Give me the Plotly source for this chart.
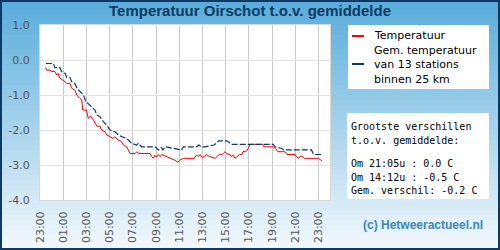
import plotly.graph_objects as go

# ---------------- data ----------------
red_times = ["23:29","23:34","23:52","00:00","00:17","00:26","00:33","00:43","01:10","01:18",
             "01:35","01:44","02:00","02:10","02:27","02:36","02:41","03:00","03:10","03:21",
             "03:36","03:54","04:10","04:18","04:36","04:45","05:02","05:18","05:27","05:45",
             "06:02","06:12","06:28","06:46","07:12","07:21","07:30","08:29","08:38","08:46",
             "08:54","09:03","09:12","09:21","09:30","09:54","10:21","10:36","10:54","11:03",
             "11:22","12:18","12:30","12:39","12:48","12:57","13:12","13:21","13:36","14:06",
             "14:24","14:42","14:51","14:57","15:06","15:24","15:30","15:39","15:48","15:57",
             "16:12","16:24","16:30","16:48","16:58","17:06","18:12","18:18","19:06","19:18",
             "19:30","20:06","20:18","21:00","21:06","21:18","21:27","21:36","21:48","23:00",
             "23:12","23:18"]
red_values = [-0.22,-0.29,-0.29,-0.33,-0.33,-0.43,-0.38,-0.52,-0.62,-0.67,
              -0.67,-0.81,-0.86,-1.00,-1.10,-1.14,-1.43,-1.43,-1.67,-1.60,
              -1.71,-1.89,-1.89,-2.00,-2.05,-2.14,-2.19,-2.24,-2.19,-2.29,
              -2.33,-2.43,-2.48,-2.67,-2.67,-2.62,-2.67,-2.67,-2.76,-2.81,
              -2.72,-2.78,-2.70,-2.76,-2.70,-2.76,-2.81,-2.86,-2.92,-2.86,
              -2.81,-2.81,-2.71,-2.76,-2.70,-2.78,-2.76,-2.70,-2.76,-2.81,
              -2.71,-2.70,-2.65,-2.62,-2.68,-2.71,-2.76,-2.72,-2.81,-2.76,
              -2.70,-2.70,-2.62,-2.60,-2.52,-2.41,-2.41,-2.48,-2.48,-2.52,
              -2.62,-2.62,-2.70,-2.70,-2.76,-2.81,-2.74,-2.76,-2.81,-2.81,
              -2.86,-2.88]

avg_times = ["23:31","00:09","00:17","00:43","00:52","01:10","01:18","01:35","01:44","02:00",
             "02:12","02:27","02:44","02:58","03:18","03:44","03:54","04:10","04:28","04:45",
             "05:02","05:28","05:45","06:02","06:28","06:54","07:20","07:28","07:36","07:46",
             "08:54","09:12","09:27","09:36","09:48","10:21","10:54","11:12","11:22","12:30",
             "12:42","12:54","13:12","14:00","14:12","14:24","15:06","15:12","15:24","15:30",
             "19:06","19:16","19:48","20:00","22:24","22:36","23:18"]
avg_values = [-0.10,-0.10,-0.22,-0.22,-0.33,-0.38,-0.50,-0.50,-0.62,-0.67,
              -0.81,-0.90,-1.00,-1.19,-1.29,-1.43,-1.57,-1.62,-1.76,-1.86,
              -2.00,-2.05,-2.14,-2.19,-2.24,-2.38,-2.43,-2.38,-2.43,-2.48,
              -2.48,-2.57,-2.50,-2.57,-2.48,-2.52,-2.57,-2.57,-2.48,-2.48,
              -2.43,-2.48,-2.48,-2.43,-2.38,-2.31,-2.31,-2.33,-2.38,-2.41,
              -2.41,-2.48,-2.52,-2.57,-2.57,-2.70,-2.70]

tick_labels = ["23:00","01:00","03:00","05:00","07:00","09:00","11:00","13:00",
               "15:00","17:00","19:00","21:00","23:00"]
y_ticks = [1.0, 0.0, -1.0, -2.0, -3.0, -4.0]

title_text = "Temperatuur Oirschot t.o.v. gemiddelde"
series_names = ["Temperatuur", "Gem. temperatuur<br>van 13 stations<br>binnen 25 km"]
info_lines = ["Grootste verschillen", "t.o.v. gemiddelde:", "",
              "Om 21:05u : 0.0 C", "Om 14:12u : -0.5 C", "Gem. verschil: -0.2 C"]
credit = "(c) Hetweeractueel.nl"


def to_hours(times):
    """Hours since 23:00 of the first day, rolling over midnight in sequence."""
    out = []
    prev = -1.0
    for t in times:
        h, m = map(int, t.split(":"))
        v = h + m / 60.0 - 23.0
        while v < prev:
            v += 24.0
        out.append(v)
        prev = v
    return out

# ---------------- layout helpers ----------------
W, H = 500, 250
L, R, T, B = 40, 330, 25, 200


def px(x):
    return (x - L) / (R - L)


def py(y):
    return (B - y) / (B - T)


RED = "#ff0000"
NAVY = "#0b3a64"

fig = go.Figure()
fig.add_trace(go.Scatter(x=to_hours(red_times), y=red_values, mode="lines",
                         name=series_names[0], line=dict(color=RED, width=1)))
fig.add_trace(go.Scatter(x=to_hours(avg_times), y=avg_values, mode="lines",
                         name=series_names[1], line=dict(color=NAVY, width=1.2, dash="6px,2px")))

shapes = []
# background gradient
top = (87, 172, 219)
bot = (244, 249, 252)
n = 50
for i in range(n):
    f = (i + 0.5) / n
    c = tuple(round(top[k] + (bot[k] - top[k]) * f) for k in range(3))
    y0 = H * i / n
    y1 = H * (i + 1) / n + 0.5
    shapes.append(dict(type="rect", xref="paper", yref="paper", layer="below",
                       x0=px(0), x1=px(W), y0=py(y1), y1=py(y0),
                       fillcolor="rgb(%d,%d,%d)" % c, line=dict(width=0)))
# plot area white
shapes.append(dict(type="rect", xref="paper", yref="paper", layer="below",
                   x0=0, x1=1, y0=0, y1=1, fillcolor="white", line=dict(width=0)))
# legend box
shapes.append(dict(type="rect", xref="paper", yref="paper", layer="below",
                   x0=px(348), x1=px(489), y0=py(89), y1=py(25),
                   fillcolor="white", line=dict(width=0)))
# info box
shapes.append(dict(type="rect", xref="paper", yref="paper", layer="below",
                   x0=px(347), x1=px(489), y0=py(199), y1=py(113),
                   fillcolor="white", line=dict(width=0)))
# legend swatches
shapes.append(dict(type="line", xref="paper", yref="paper",
                   x0=px(352), x1=px(364), y0=py(36), y1=py(36),
                   line=dict(color=RED, width=2)))
shapes.append(dict(type="line", xref="paper", yref="paper",
                   x0=px(352), x1=px(364), y0=py(64), y1=py(64),
                   line=dict(color=NAVY, width=2)))
# outer border
shapes.append(dict(type="rect", xref="paper", yref="paper", layer="above",
                   x0=px(1), x1=px(W - 1), y0=py(H - 1), y1=py(1),
                   fillcolor="rgba(0,0,0,0)", line=dict(color="#0b3a66", width=2)))

annotations = []
annotations.append(dict(text="<b>%s</b>" % title_text, xref="paper", yref="paper",
                        x=px(250), y=py(11), xanchor="center", yanchor="middle",
                        showarrow=False,
                        font=dict(family="Liberation Sans, Arial", size=15, color="#0d3a63")))
annotations.append(dict(text=series_names[0], xref="paper", yref="paper", x=px(372), y=py(35.5),
                        xanchor="left", yanchor="middle", showarrow=False,
                        font=dict(family="DejaVu Sans", size=11, color="#000000")))
annotations.append(dict(text=series_names[1], xref="paper", yref="paper", x=px(372), y=py(65),
                        xanchor="left", yanchor="middle", align="left", showarrow=False,
                        font=dict(family="DejaVu Sans", size=11, color="#000000")))
info_y = [126.5, 140, 153, 163.5, 177, 190.5]
for s, yy in zip(info_lines, info_y):
    if not s:
        continue
    annotations.append(dict(text=s.replace(" ", "&nbsp;"), xref="paper", yref="paper",
                            x=px(349), y=py(yy), xanchor="left", yanchor="middle",
                            showarrow=False,
                            font=dict(family="DejaVu Sans Mono", size=10, color="#000000")))
annotations.append(dict(text="<b>%s</b>" % credit, xref="paper", yref="paper",
                        x=px(423), y=py(225), xanchor="center", yanchor="middle",
                        showarrow=False,
                        font=dict(family="Liberation Sans, Arial", size=12, color="#3b89b5")))

fig.update_layout(
    width=W, height=H,
    margin=dict(l=L, r=W - R, t=T, b=H - B, pad=0, autoexpand=False),
    paper_bgcolor="rgba(0,0,0,0)", plot_bgcolor="white",
    showlegend=False,
    shapes=shapes, annotations=annotations,
    font=dict(family="DejaVu Sans", size=11, color="#555555"),
)
fig.update_xaxes(range=[0, 25], tickmode="array", automargin=False,
                 tickvals=[2 * i for i in range(len(tick_labels))], ticktext=tick_labels,
                 tickangle=-90, showgrid=True, gridcolor="#c8c8c8", gridwidth=1,
                 zeroline=False, showline=True, linecolor="#d8d8d8", mirror=True,
                 ticks="", ticklabelstandoff=6,
                 tickfont=dict(family="DejaVu Sans", size=11, color="#555555"))
fig.update_yaxes(range=[-4, 1], tickmode="array", tickvals=y_ticks, automargin=False,
                 ticktext=["%.1f" % v for v in y_ticks],
                 showgrid=True, gridcolor="#e2e2e2", gridwidth=1,
                 zeroline=False, showline=True, linecolor="#d8d8d8", mirror=True,
                 ticks="", ticklabelstandoff=7,
                 tickfont=dict(family="DejaVu Sans", size=11, color="#555555"))

fig.write_html("out.html")
